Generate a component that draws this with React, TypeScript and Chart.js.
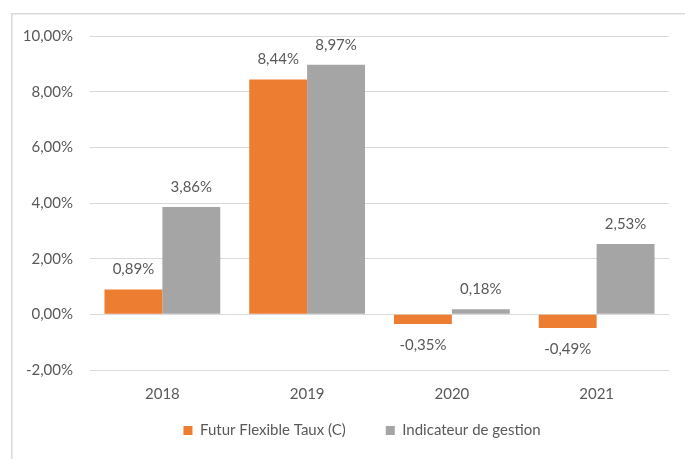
import React, { useEffect, useRef } from "react";
import { Chart, registerables } from "chart.js";

Chart.register(...registerables);

const categories = ["2018", "2019", "2020", "2021"];
const seriesNames = ["Futur Flexible Taux (C)", "Indicateur de gestion"];
const futurValues = [0.89, 8.44, -0.35, -0.49];
const indicateurValues = [3.86, 8.97, 0.18, 2.53];
const yTicks = [-2, 0, 2, 4, 6, 8, 10];

const FONT = "Lato";
const FS = 15;
const TEXT = "#595959";

const fmt = (v: number) => v.toFixed(2).replace(".", ",") + "%";

const borderPlugin = {
  id: "outerBorder",
  beforeDraw(chart: any) {
    const ctx = chart.ctx;
    ctx.save();
    ctx.fillStyle = "#D9D9D9";
    ctx.fillRect(11, 13, 1.5, 1000);
    ctx.fillRect(11, 13, 1000, 1.5);
    ctx.restore();
  },
};

// move legend and x-axis label box to match reference placement
const placePlugin = {
  id: "placeBoxes",
  afterLayout(chart: any) {
    const lg = chart.legend;
    if (lg) {
      const dx = 22;
      const top = 383;
      const h = lg.bottom - lg.top;
      lg.left += dx;
      lg.right += dx;
      lg.top = top;
      lg.bottom = top + h;
    }
    const xs = chart.scales.x;
    if (xs) {
      xs.bottom = xs.top + 40;
      xs.height = 40;
    }
  },
};

const dataLabelPlugin = {
  id: "dataLabels",
  afterDatasetsDraw(chart: any) {
    const ctx = chart.ctx;
    ctx.save();
    ctx.font = `${FS}px ${FONT}`;
    ctx.fillStyle = TEXT;
    ctx.textAlign = "center";
    ctx.textBaseline = "middle";
    chart.data.datasets.forEach((ds: any, di: number) => {
      const meta = chart.getDatasetMeta(di);
      meta.data.forEach((bar: any, i: number) => {
        const v = ds.data[i] as number;
        const y = v >= 0 ? bar.y - 20 : bar.y + 21;
        ctx.fillText(fmt(v), bar.x, y);
      });
    });
    ctx.restore();
  },
};

export default function App() {
  const ref = useRef<HTMLCanvasElement | null>(null);
  useEffect(() => {
    if (!ref.current) return;
    const chart = new Chart(ref.current, {
      type: "bar",
      data: {
        labels: categories,
        datasets: [
          {
            label: seriesNames[0],
            data: futurValues,
            backgroundColor: "#ED7D31",
            categoryPercentage: 0.8,
            barPercentage: 1.0,
          },
          {
            label: seriesNames[1],
            data: indicateurValues,
            backgroundColor: "#A5A5A5",
            categoryPercentage: 0.8,
            barPercentage: 1.0,
          },
        ],
      },
      options: {
        animation: false,
        responsive: false,
        devicePixelRatio: 1,
        layout: { padding: { left: 11, right: 16, top: 36, bottom: 0 } },
        plugins: {
          legend: {
            position: "bottom",
            labels: {
              boxWidth: 9,
              boxHeight: 9,
              padding: 40,
              color: TEXT,
              font: { family: FONT, size: FS },
            },
          },
          tooltip: { enabled: false },
        },
        scales: {
          x: {
            grid: { display: false, drawTicks: false },
            border: { display: false },
            ticks: {
              color: TEXT,
              padding: 15,
              font: { family: FONT, size: FS },
            },
            afterFit(scale: any) {
              scale.height = 24;
            },
          },
          y: {
            min: -2,
            max: 10,
            afterBuildTicks(scale: any) {
              scale.ticks = yTicks.map((v) => ({ value: v }));
            },
            grid: { color: "#D9D9D9", lineWidth: 1, drawTicks: false },
            border: { display: false },
            ticks: {
              color: TEXT,
              padding: 17,
              font: { family: FONT, size: FS },
              callback: (v: any) => fmt(Number(v)),
            },
            afterFit(scale: any) {
              scale.width = 79;
            },
          },
        },
      },
      plugins: [borderPlugin, placePlugin, dataLabelPlugin],
    });
    return () => chart.destroy();
  }, []);
  return (
    <div style={{ position: "absolute", left: 0, top: 0, width: 685, height: 459, background: "#fff" }}>
      <canvas ref={ref} width={685} height={459} style={{ width: 685, height: 459 }} />
    </div>
  );
}
